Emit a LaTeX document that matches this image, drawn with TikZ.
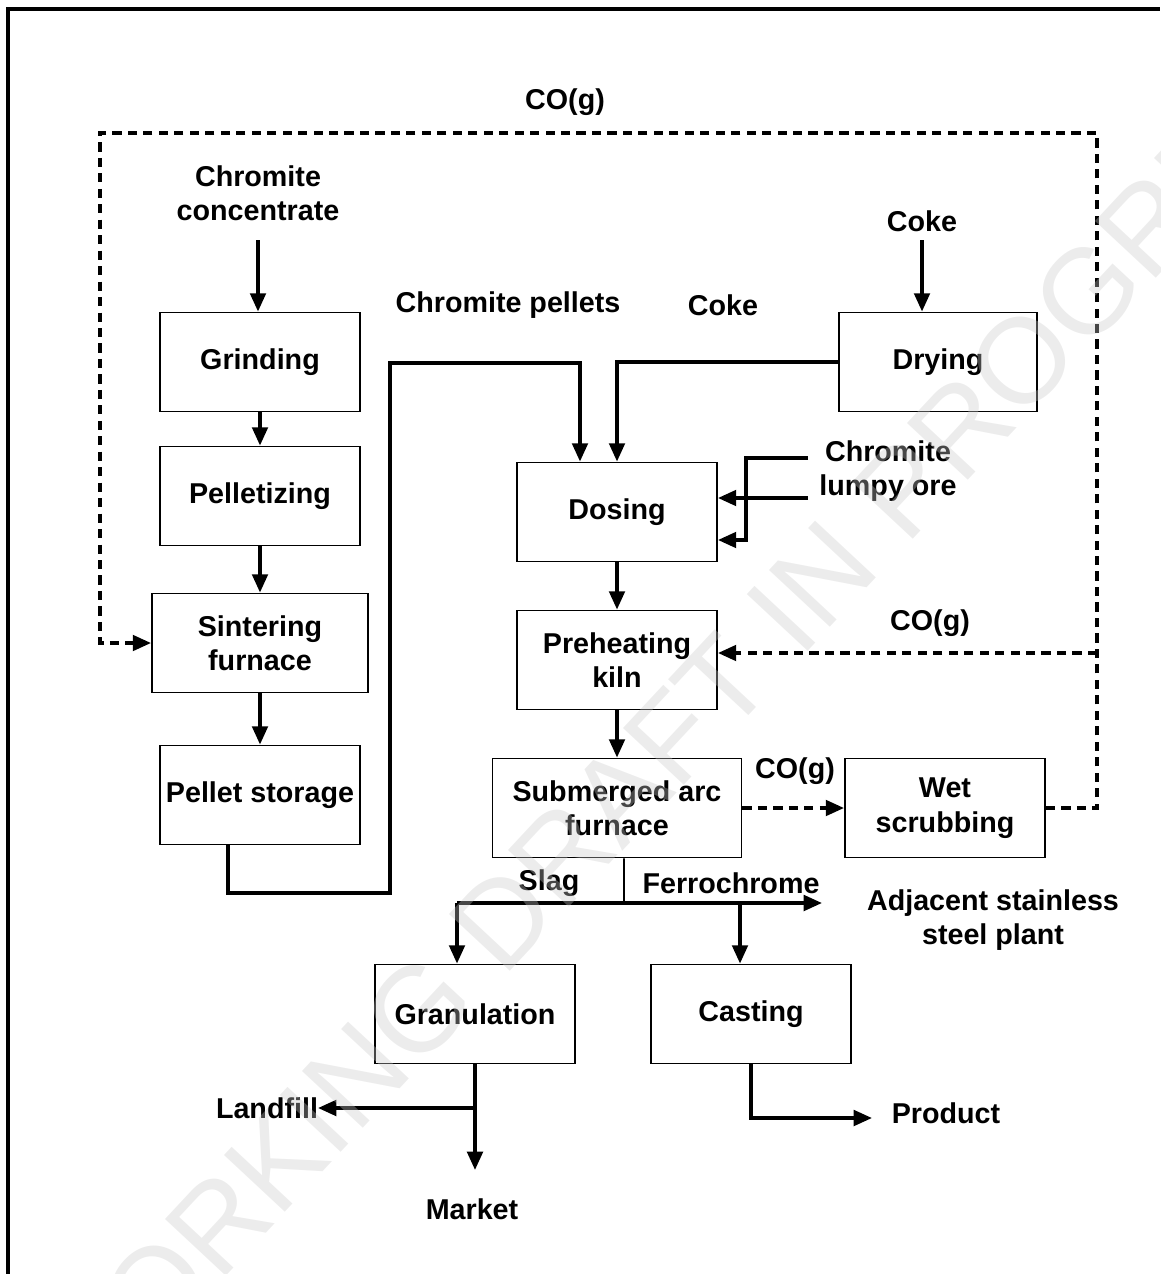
\documentclass[tikz,border=0pt]{standalone}
\usepackage{fontspec}
\setmainfont{Liberation Sans}
\usetikzlibrary{arrows.meta,positioning,calc}

\begin{document}
\begin{tikzpicture}[x=0.025cm,y=-0.025cm,
    font=\fontsize{20.4}{24.5}\selectfont\bfseries,
    stage/.style={draw,line width=1.3pt,minimum width=5cm,minimum height=2.475cm,align=center,inner sep=0pt},
    tag/.style={align=center,inner sep=0pt},
    flow/.style={line width=2.5pt,-{Triangle[length=13pt,width=11pt]}},
    gas/.style={flow,dash pattern=on 6.5pt off 4.5pt},
    tap/.style={line width=1.3pt}]
  \useasboundingbox (0,0) rectangle (1160,1274);

  \draw[line width=2.5pt] (8,1274) -- (8,9) -- (1160,9);

  % process units
  \node[stage] (grind) at (260,362) {Grinding};
  \node[stage] (pellet) at (260,496) {Pelletizing};
  \node[stage,minimum width=5.4cm] (sinter) at (260,643) {Sintering\\furnace};
  \node[stage] (store) at (260,795) {Pellet storage};
  \node[stage,minimum width=4.95cm] (dry) at (938,362) {Drying};
  \node[stage] (dose) at (617,512) {Dosing};
  \node[stage] (preheat) at (617,660) {Preheating\\kiln};
  \node[stage,minimum width=6.225cm] (saf) at (617,808) {Submerged arc\\furnace};
  \node[stage] (scrub) at (945,808) {Wet\\scrubbing};
  \node[stage] (gran) at (475,1014) {Granulation};
  \node[stage] (cast) at (751,1014) {Casting};

  % stream labels
  \node[tag] (cotop) at (565,102) {CO(g)};
  \node[tag] (conc) at (258,193) {Chromite\\concentrate};
  \node[tag] (cpel) at (508,305) {Chromite pellets};
  \node[tag] (coke) at (723,305) {Coke};
  \node[tag] (cokein) at (922,221) {Coke};
  \node[tag] (lumpy) at (888,471) {Chromite\\lumpy ore};
  \node[tag] (cokiln) at (930,623) {CO(g)};
  \node[tag] (cosaf) at (795,771) {CO(g)};
  \node[tag] (slag) at (549,883) {Slag};
  \node[tag] (fecr) at (731,883) {Ferrochrome};
  \node[tag] (steel) at (993,920) {Adjacent stainless\\steel plant};
  \node[tag] (landfill) at (267,1108) {Landfill};
  \node[tag] (product) at (946,1113) {Product};
  \node[tag] (market) at (472,1209) {Market};

  \coordinate (concout) at (258,240);
  \coordinate (cokeout) at (922,240);
  \coordinate (lumpa) at (808,458);
  \coordinate (lumpb) at (808,498);
  \coordinate (split) at (624,903);
  \coordinate (slagtap) at (457,903);
  \coordinate (casttap) at (740,903);
  \coordinate (steelin) at (822,903);
  \coordinate (fillin) at (318,1108);
  \coordinate (mktin) at (475,1170);
  \coordinate (prodin) at (872,1118);

  % pellet line
  \draw[flow] (concout) -- (concout |- grind.north);
  \draw[flow] (grind) -- (pellet);
  \draw[flow] (pellet) -- (sinter);
  \draw[flow] (sinter) -- (store);
  \draw[flow] ([xshift=-0.8cm]store.south) |- (390,893) -- (390,363) -| ([xshift=-0.925cm]dose.north);

  % coke and lumpy ore
  \draw[flow] (cokeout) -- (cokeout |- dry.north);
  \draw[flow] (dry.west) -| (dose.north);
  \draw[flow] (lumpa) -- (746,458) |- (dose.east |- 0,540);
  \draw[flow] (lumpb) -- (dose.east |- lumpb);

  \draw[flow] (dose) -- (preheat);
  \draw[flow] (preheat) -- (saf);

  % off-gas
  \draw[gas] (saf.east) -- (scrub.west);
  \draw[gas] (scrub.east) -- (1097,808) -- (1097,133) -- (100,133) |- (sinter.west);
  \draw[gas] (1097,653) -- (preheat.east |- 0,653);

  % tapping
  \draw[tap] ([xshift=0.175cm]saf.south) -- (split);
  \draw[flow] (slagtap) -- (steelin);
  \draw[flow] (slagtap) -- (slagtap |- gran.north);
  \draw[flow] (casttap) -- (casttap |- cast.north);
  \draw[flow] (gran.south) -- (mktin);
  \draw[flow] (gran.south |- fillin) -- (fillin);
  \draw[flow] (cast.south) |- (prodin);

  % watermark
  \node[text=black!21,text opacity=0.35,font=\fontsize{86}{86}\selectfont,rotate=47] (mark) at (695,712) {WORKING DRAFT IN PROGRESS};
\end{tikzpicture}
\end{document}
